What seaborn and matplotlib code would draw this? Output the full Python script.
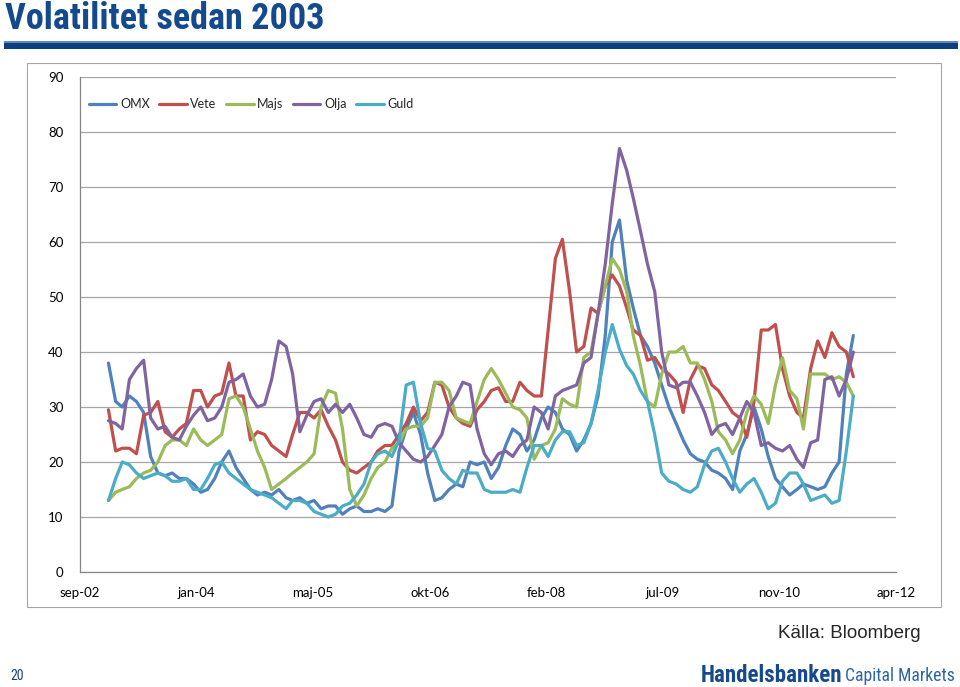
import pandas as pd
import numpy as np
import seaborn as sns
import matplotlib.pyplot as plt
from matplotlib.patches import Rectangle

# monthly readings, jan-03 .. okt-11
months = pd.date_range('2003-01-01', periods=106, freq='MS')

omx = [38, 31, 30, 32, 31, 29, 21, 18, 17.5, 18, 17, 17, 16, 14.5, 15, 17, 20, 22, 19, 17,
       15, 14, 14.5, 14, 15, 13.5, 13, 13.5, 12.5, 13, 11.5, 12, 12, 10.5, 11.5, 12, 11, 11, 11.5, 11,
       12, 22, 26, 29, 25, 18, 13, 13.5, 15, 16, 15.5, 20, 19.5, 20, 17, 19, 23, 26, 25, 22,
       24, 28, 30, 29, 26, 25, 22, 24, 27, 32, 43, 60, 64, 53, 48, 43, 41, 38, 34, 30,
       27, 24, 21.5, 20.5, 20, 18.5, 18, 17, 15, 22, 25, 30, 26, 21, 17, 15.5, 14, 15, 16, 15.5,
       15, 15.5, 18, 20, 36, 43]
vete = [29.5, 22, 22.5, 22.5, 21.5, 28.5, 29, 31, 25.5, 24.5, 26, 27, 33, 33, 30, 32, 32.5, 38, 32, 32,
        24, 25.5, 25, 23, 22, 21, 25, 29, 29, 28, 29.5, 26.5, 24, 20, 18.5, 18, 19, 20, 22, 23,
        23, 25, 27, 30, 27.5, 29, 34.5, 34, 30, 28, 27, 26.5, 29.5, 31, 33, 33.5, 31, 31, 34.5, 33,
        32, 32, 44, 57, 60.5, 51, 40, 41, 48, 47, 52, 54, 52, 48, 44, 43, 38.5, 39, 37, 36,
        34.5, 29, 35, 37.5, 37, 34, 33, 31, 29, 28, 24.5, 31, 44, 44, 45, 37, 32, 29, 28, 37,
        42, 39, 43.5, 41, 40, 35.5]
majs = [13, 14.5, 15, 15.5, 17, 18, 18.5, 20, 23, 24, 24, 23, 26, 24, 23, 24, 25, 31.5, 32, 30,
        26, 22, 19, 15, 16, 17, 18, 19, 20, 21.5, 30, 33, 32.5, 26, 15, 12, 14, 17, 19, 20,
        22.5, 23.5, 26, 26.5, 26.5, 28, 34.5, 34.5, 33, 28, 27.5, 27, 31, 35, 37, 35, 32.5, 30, 29.5, 28,
        20.5, 23, 23.5, 26, 31.5, 30.5, 30, 39, 40, 47, 52, 57, 55, 51, 43, 37.5, 31, 30, 36, 40,
        40, 41, 38, 38, 35, 31, 25.5, 24, 21.5, 24, 29, 32, 30.5, 27, 34, 39, 33, 31.5, 26, 36,
        36, 36, 35, 35.5, 34.5, 32]
olja = [27.5, 27, 26, 35, 37, 38.5, 28, 26, 26.5, 24.5, 24, 26.5, 28.5, 30, 27.5, 28, 30, 34.5, 35, 36,
        32, 30, 30.5, 35, 42, 41, 36, 25.5, 28.5, 31, 31.5, 29, 30.5, 29, 30.5, 28, 25, 24.5, 26.5, 27,
        26.5, 23.5, 22, 20.5, 20, 21, 23, 25, 30, 32, 34.5, 34, 26, 21.5, 19.5, 21.5, 22, 21, 23, 24,
        30, 29, 26, 32, 33, 33.5, 34, 38, 39, 47, 56, 67, 77, 73, 68, 62, 56, 51, 40, 34,
        33.5, 34.5, 34.5, 32, 29, 25, 26.5, 27, 25, 28, 31, 29, 23, 23.5, 22.5, 22, 23, 20.5, 19, 23.5,
        24, 35, 35.5, 32, 35, 40]
guld = [13, 17, 20, 19.5, 18, 17, 17.5, 18, 17.5, 16.5, 16.5, 17, 15, 15, 17, 19.5, 20, 18, 17, 16,
        15, 14.5, 14, 13.5, 12.5, 11.5, 13, 13, 12.5, 11, 10.5, 10, 10.5, 12, 12.5, 14, 16, 20, 21.5, 22,
        21, 24, 34, 34.5, 27, 22.5, 22, 18.5, 17, 16, 18.5, 18, 18, 15, 14.5, 14.5, 14.5, 15, 14.5, 19,
        23, 23, 21, 24, 25.5, 25.5, 23, 23.5, 27, 33, 40, 45, 40.5, 37.5, 36, 33, 31, 25, 18, 16.5,
        16, 15, 14.5, 15.5, 19.5, 22, 22.5, 20, 17, 14.5, 16, 17, 14.5, 11.5, 12.5, 16.5, 18, 18, 16, 13,
        13.5, 14, 12.5, 13, 22, 32]

series = ['OMX', 'Vete', 'Majs', 'Olja', 'Guld']
colors = ['#4F81BD', '#C0504D', '#9BBB59', '#8064A2', '#4BACC6']
tick_labels = ['sep-02', 'jan-04', 'maj-05', 'okt-06', 'feb-08', 'jul-09', 'nov-10', 'apr-12']

df = pd.DataFrame({'Datum': months, 'OMX': omx, 'Vete': vete, 'Majs': majs,
                   'Olja': olja, 'Guld': guld})
long = df.melt(id_vars='Datum', var_name='Serie', value_name='Volatilitet')

sns.set_style('white')
plt.rcParams['font.family'] = ['Lato', 'DejaVu Sans']
narrow = ['Roboto Condensed', 'Liberation Sans', 'DejaVu Sans']

fig = plt.figure(figsize=(9.6, 6.87), dpi=100)
W, H = 960, 687

# slide decoration
fig.patches.append(Rectangle((4 / W, 1 - 49 / H), 954 / W, 8 / H, transform=fig.transFigure,
                             facecolor='#0D3E7E', edgecolor='none'))
fig.patches.append(Rectangle((4 / W, 1 - 42.5 / H), 954 / W, 1.5 / H, transform=fig.transFigure,
                             facecolor='#5C8CC8', edgecolor='none'))
fig.patches.append(Rectangle((27 / W, 1 - 607 / H), 914 / W, 544 / H, transform=fig.transFigure,
                             facecolor='none', edgecolor='#A6A6A6', lw=0.8))

ax = fig.add_axes([80 / W, 1 - 572 / H, 816 / W, 495 / H])
sns.lineplot(data=long, x='Datum', y='Volatilitet', hue='Serie', hue_order=series,
             palette=colors, linewidth=2.3, ax=ax)

start = pd.Timestamp('2002-09-01')
ticks = [start + pd.Timedelta(days=500 * k) for k in range(len(tick_labels))]
ax.set_xlim(ticks[0], ticks[-1])
ax.set_xticks(ticks)
ax.set_xticklabels(tick_labels)
ax.set_ylim(0, 90)
ax.set_yticks(range(0, 91, 10))
ax.set_xlabel('')
ax.set_ylabel('')
ax.yaxis.grid(True, color='#A6A6A6', lw=0.9)
ax.set_axisbelow(True)
for s in ['top', 'right']:
    ax.spines[s].set_visible(False)
for s in ['left', 'bottom']:
    ax.spines[s].set_color('#868686')
    ax.spines[s].set_linewidth(0.9)
ax.tick_params(axis='both', labelsize=9.5, colors='#868686', labelcolor='black',
               length=4, direction='out', width=0.9)
ax.tick_params(axis='x', pad=7)
ax.tick_params(axis='y', pad=8)

ax.legend(loc='upper left', bbox_to_anchor=(-0.003, 0.98), ncol=5, frameon=False,
          fontsize=9, handlelength=2.2, columnspacing=0.75, handletextpad=0.3)

fig.text(5 / W, 1 - 29 / H, 'Volatilitet sedan 2003', ha='left', va='baseline',
         fontsize=26, fontweight='bold', color='#134A8E', family=narrow)
fig.text(921 / W, 1 - 634 / H, 'Källa: Bloomberg', ha='right', va='center',
         fontsize=13.5, family=['Liberation Sans', 'DejaVu Sans'])
fig.text(10 / W, 1 - 676 / H, '20', ha='left', va='center', fontsize=10,
         color='#1F3F7F', family=narrow)
fig.text(842 / W, 1 - 675 / H, 'Handelsbanken', ha='right', va='center', fontsize=16.5,
         fontweight='bold', color='#164A8C', family=narrow)
fig.text(955 / W, 1 - 676 / H, 'Capital Markets', ha='right', va='center', fontsize=12.7,
         color='#2A64AA', family=narrow)

fig.savefig('out.png', dpi=100)
